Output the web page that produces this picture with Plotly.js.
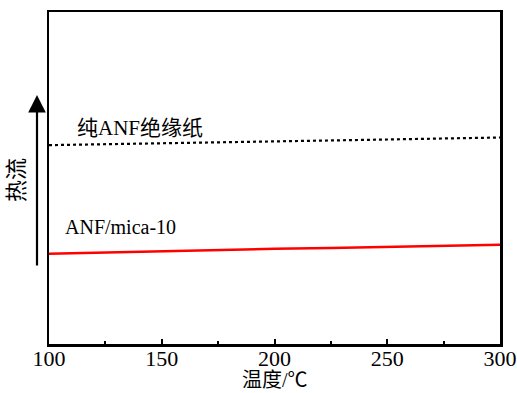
<!DOCTYPE html>
<html><head><meta charset="utf-8">
<script src="https://cdn.plot.ly/plotly-3.0.1.min.js"></script>
<style>html,body{margin:0;padding:0;background:#fff}#c{width:517px;height:393px}</style>
</head><body><div id="c"></div>
<script>
const tempPure = [100, 150, 200, 250, 300];
const flowPure = [59.9, 60.4, 61.0, 61.6, 62.2];
const tempMica = [100, 125, 150, 175, 200, 225, 250, 275, 300];
const flowMica = [27.2, 27.6, 28.0, 28.4, 28.7, 28.9, 29.2, 29.5, 29.9];
const labelPure = '纯ANF绝缘纸';
const labelMica = 'ANF/mica-10';
const xTitle = '温度/℃';
const yTitle = '热流';
const xTicks = [100, 150, 200, 250, 300];

const FONT = 'Liberation Serif, "Noto Sans CJK SC", serif';

const traces = [
  {x: tempPure, y: flowPure, mode: 'lines', line: {color: '#000', width: 2.2, dash: 'dot'}, showlegend: false},
  {x: tempMica, y: flowMica, mode: 'lines', line: {color: '#ff0000', width: 2.5}, showlegend: false}
];

const layout = {
  width: 517, height: 393,
  margin: {l: 49, r: 17, t: 12, b: 49},
  paper_bgcolor: '#fff', plot_bgcolor: '#fff',
  font: {family: FONT, color: '#000', size: 21},
  xaxis: {
    range: [100, 300], tickvals: xTicks, ticktext: xTicks.map(String),
    ticks: 'inside', ticklen: 5, tickwidth: 2, tickcolor: '#000',
    minor: {ticks: 'inside', ticklen: 3, tickwidth: 2, dtick: 25, tick0: 100, tickcolor: '#000'},
    showline: true, linewidth: 2.5, linecolor: '#000', mirror: true,
    showgrid: false, zeroline: false,
    tickfont: {family: FONT, size: 22},
    ticklabelstandoff: -7
  },
  yaxis: {
    range: [0, 100], showticklabels: false, ticks: '',
    showline: true, linewidth: 2.5, linecolor: '#000', mirror: true,
    showgrid: false, zeroline: false
  },
  annotations: [
    {xref: 'x', yref: 'y', x: 140.4, y: 65.2, text: labelPure, showarrow: false, xanchor: 'center', font: {family: FONT, size: 21}},
    {xref: 'x', yref: 'y', x: 131.5, y: 35.2, text: labelMica, showarrow: false, xanchor: 'center', font: {family: FONT, size: 20}},
    {xref: 'paper', yref: 'paper', x: 0.502, y: -0.109, text: xTitle, showarrow: false,
     xanchor: 'center', yanchor: 'middle', font: {family: FONT, size: 20}},
    {xref: 'paper', yref: 'paper', x: -0.071, y: 0.494, text: yTitle, textangle: -90, showarrow: false,
     xanchor: 'center', yanchor: 'middle', font: {family: FONT, size: 22}},
    {xref: 'paper', yref: 'paper', x: -0.0266, y: 0.75, ax: 0, ay: 172, axref: 'pixel', ayref: 'pixel',
     text: '', showarrow: true, arrowhead: 2, arrowsize: 1.6, arrowwidth: 2.2, arrowcolor: '#000'}
  ]
};

Plotly.newPlot('c', traces, layout, {staticPlot: true, displayModeBar: false});
</script></body></html>
